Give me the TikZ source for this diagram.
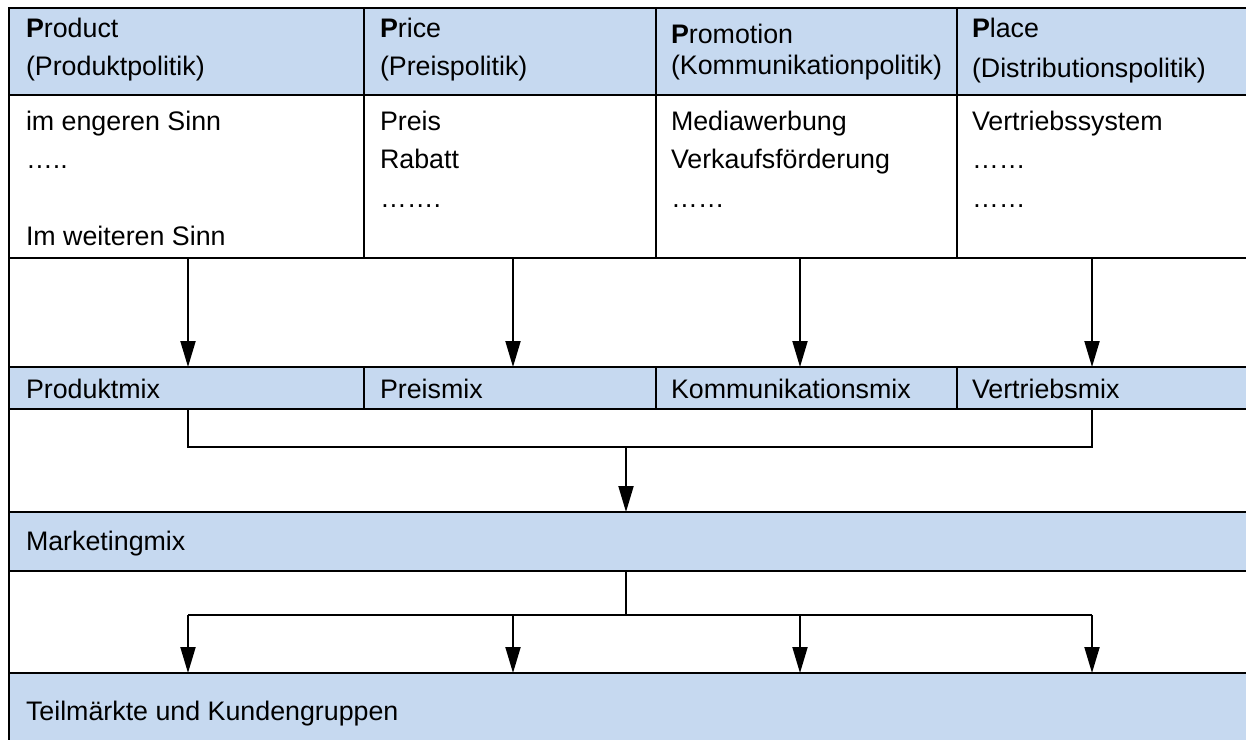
\documentclass[tikz,border=0pt]{standalone}
\usepackage{fontspec}
\setmainfont{Liberation Sans}
\usetikzlibrary{arrows.meta}
\definecolor{cellblue}{RGB}{198,217,240}
\begin{document}
\begin{tikzpicture}[x=1pt,y=-1pt,
  cell/.style={draw=black, line width=2.8pt, inner sep=0pt, outer sep=0pt, anchor=north west},
  bluecell/.style={cell, fill=cellblue},
  txt/.style={anchor=base west, inner sep=0pt, outer sep=0pt, font=\fontsize{26.8}{32}\selectfont},
  link/.style={line width=2pt, line join=miter},
  arr/.style={line width=2pt, -{Triangle[width=15pt,length=26pt]}}
]
\clip (0,0) rectangle (1246,739);
\fill[white] (0,0) rectangle (1246,739);

% header row: the four P's
\node[bluecell, minimum width=355pt, minimum height=87pt] (h1) at (9,8) {};
\node[bluecell, minimum width=292pt, minimum height=87pt] (h2) at (364,8) {};
\node[bluecell, minimum width=301pt, minimum height=87pt] (h3) at (656,8) {};
\node[bluecell, minimum width=303pt, minimum height=87pt] (h4) at (957,8) {};
% instruments
\node[cell, minimum width=355pt, minimum height=163pt] (b1) at (9,95) {};
\node[cell, minimum width=292pt, minimum height=163pt] (b2) at (364,95) {};
\node[cell, minimum width=301pt, minimum height=163pt] (b3) at (656,95) {};
\node[cell, minimum width=303pt, minimum height=163pt] (b4) at (957,95) {};
% free band with arrows
\node[cell, minimum width=1251pt, minimum height=109pt] (g1) at (9,258) {};
% sub-mixes
\node[bluecell, minimum width=355pt, minimum height=42pt] (m1) at (9,367) {};
\node[bluecell, minimum width=292pt, minimum height=42pt] (m2) at (364,367) {};
\node[bluecell, minimum width=301pt, minimum height=42pt] (m3) at (656,367) {};
\node[bluecell, minimum width=303pt, minimum height=42pt] (m4) at (957,367) {};
\node[cell, minimum width=1251pt, minimum height=103pt] (g2) at (9,409) {};
\node[bluecell, minimum width=1251pt, minimum height=59pt] (mk) at (9,512) {};
\node[cell, minimum width=1251pt, minimum height=102pt] (g3) at (9,571) {};
\node[bluecell, minimum width=1251pt, minimum height=90pt] (tk) at (9,673) {};

% texts
\node[txt] (t11) at (26,37) {\textbf{P}roduct};
\node[txt] (t12) at (26,75) {(Produktpolitik)};
\node[txt] (t21) at (380,37) {\textbf{P}rice};
\node[txt] (t22) at (380,75) {(Preispolitik)};
\node[txt] (t31) at (671,43) {\textbf{P}romotion};
\node[txt] (t32) at (671,74) {(Kommunikationpolitik)};
\node[txt] (t41) at (972,37) {\textbf{P}lace};
\node[txt] (t42) at (972,77) {(Distributionspolitik)};

\node[txt] (i11) at (26,130) {im engeren Sinn};
\node[txt] (i12) at (26,168) {…..};
\node[txt] (i13) at (26,245) {Im weiteren Sinn};
\node[txt] (i21) at (380,130) {Preis};
\node[txt] (i22) at (380,168) {Rabatt};
\node[txt] (i23) at (380,207) {…….};
\node[txt] (i31) at (671,130) {Mediawerbung};
\node[txt] (i32) at (671,168) {Verkaufsförderung};
\node[txt] (i33) at (671,207) {……};
\node[txt] (i41) at (972,130) {Vertriebssystem};
\node[txt] (i42) at (972,168) {……};
\node[txt] (i43) at (972,207) {……};

\node[txt] (s1) at (26,398) {Produktmix};
\node[txt] (s2) at (380,398) {Preismix};
\node[txt] (s3) at (671,398) {Kommunikationsmix};
\node[txt] (s4) at (972,398) {Vertriebsmix};
\node[txt] (s5) at (26,550) {Marketingmix};
\node[txt] (s6) at (26,720) {Teilmärkte und Kundengruppen};

% connector positions
\coordinate (x1) at (188,0);
\coordinate (x2) at (513,0);
\coordinate (x3) at (800,0);
\coordinate (x4) at (1092,0);
\coordinate (jn) at (626,447);
\coordinate (fk) at (626,615);

% instruments -> sub-mixes
\draw[arr] (b1.south -| x1) -- (m1.north -| x1);
\draw[arr] (b2.south -| x2) -- (m2.north -| x2);
\draw[arr] (b3.south -| x3) -- (m3.north -| x3);
\draw[arr] (b4.south -| x4) -- (m4.north -| x4);

% sub-mixes -> marketing mix
\draw[link] (m1.south -| x1) -- (x1 |- jn) -- (x4 |- jn) -- (m4.south -| x4);
\draw[arr] (jn) -- (mk.north -| jn);

% marketing mix -> markets
\draw[link] (mk.south -| fk) -- (fk);
\draw[link] (x1 |- fk) -- (x4 |- fk);
\draw[arr] (x1 |- fk) -- (tk.north -| x1);
\draw[arr] (x2 |- fk) -- (tk.north -| x2);
\draw[arr] (x3 |- fk) -- (tk.north -| x3);
\draw[arr] (x4 |- fk) -- (tk.north -| x4);
\end{tikzpicture}
\end{document}
